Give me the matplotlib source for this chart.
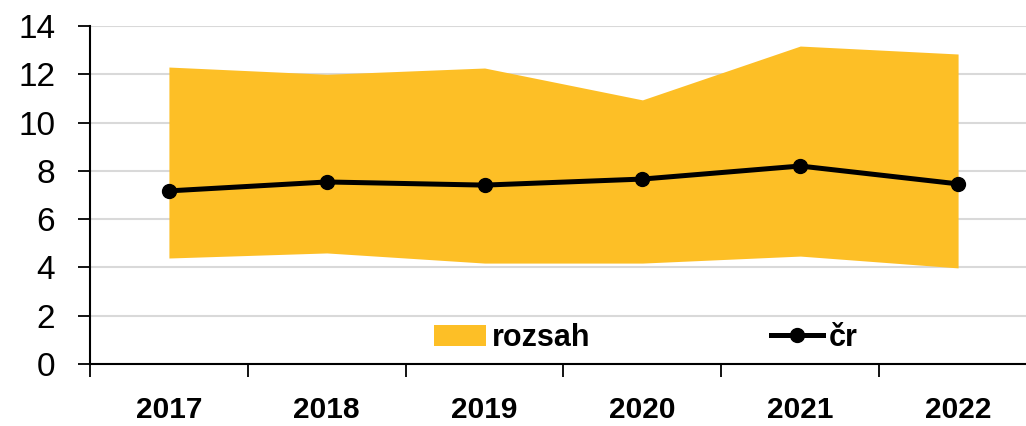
import numpy as np
import matplotlib.pyplot as plt

plt.rcParams['font.family'] = ['Liberation Sans', 'DejaVu Sans']

years = ['2017', '2018', '2019', '2020', '2021', '2022']
low = [4.39, 4.60, 4.18, 4.18, 4.47, 3.98]
high = [12.30, 12.00, 12.26, 10.94, 13.17, 12.84]
cr = [7.17, 7.54, 7.41, 7.66, 8.20, 7.46]

x = np.arange(len(years))

fig = plt.figure(figsize=(10.26, 4.26), dpi=100)
ax = fig.add_axes([90/1026, 1-364/426, 947/1026, 338/426])

ax.fill_between(x, low, high, color='#FDBF26', linewidth=0, label='rozsah', zorder=2)
ax.plot(x, cr, color='black', lw=3.6, marker='o', ms=10, label='čr', zorder=3)

ax.set_xlim(-0.5, 5.5)
ax.set_ylim(0, 14)
ax.set_yticks(range(0, 15, 2))
ax.yaxis.grid(True, color='#D9D9D9', lw=1.5, zorder=0)
ax.set_axisbelow(True)

ax.set_xticks(x)
ax.set_xticklabels(years, fontsize=21.5, fontweight='bold')
ax.set_xticks(np.arange(-0.5, 6, 1), minor=True)
ax.tick_params(axis='x', which='major', length=0, pad=23)
ax.tick_params(axis='x', which='minor', length=9, width=1.3, direction='out')
ax.tick_params(axis='y', labelsize=24, length=9, width=1.3, pad=16)

for s in ['top', 'right']:
    ax.spines[s].set_visible(False)
for s in ['left', 'bottom']:
    ax.spines[s].set_linewidth(1.5)

ax.legend(ncol=2, loc='center', bbox_to_anchor=(0.587, 0.077), frameon=False,
          prop={'size': 22, 'weight': 'bold'}, handlelength=1.7,
          handletextpad=0.2, columnspacing=5.9)

fig.savefig('out.png', dpi=100)
